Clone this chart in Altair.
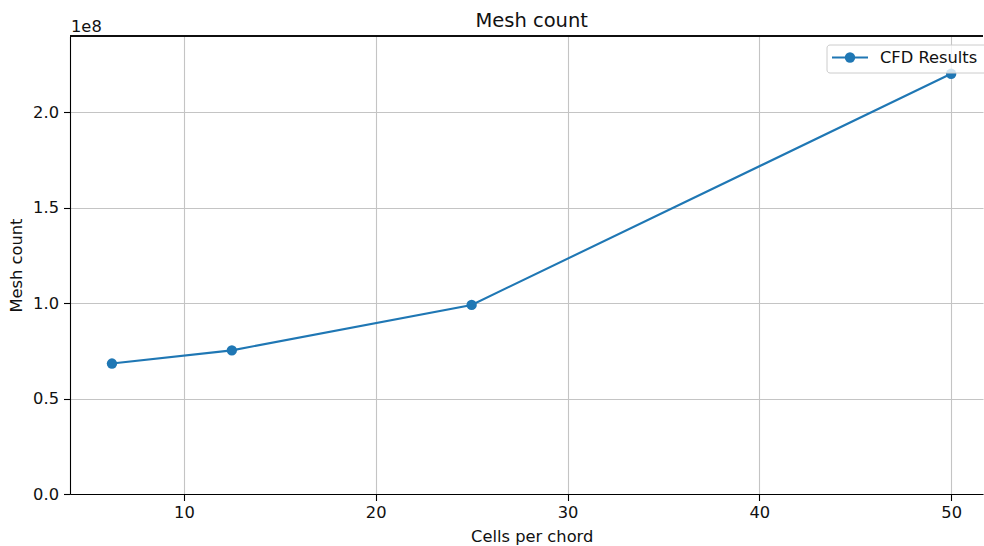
import altair as alt
import pandas as pd

# ---- data ----
cells_per_chord = [6.25, 12.5, 25, 50]
mesh_count = [0.683e8, 0.752e8, 0.99e8, 2.2e8]
x_ticks = [10, 20, 30, 40, 50]
y_ticks = [0, 0.5e8, 1.0e8, 1.5e8, 2.0e8]
series_name = "CFD Results"
chart_title = "Mesh count"
x_title = "Cells per chord"
y_title = "Mesh count"
y_multiplier = "1e8"

x_domain = [4.0625, 51.66]
y_domain = [0, 2.398e8]

W, H = 913, 458
BLUE = "#1f77b4"
FONT = "DejaVu Sans"
TXT = "#111111"

df = pd.DataFrame({"cells": cells_per_chord, "mesh": mesh_count, "series": series_name})

x_enc = alt.X("cells:Q", scale=alt.Scale(domain=x_domain, nice=False, zero=False),
              axis=alt.Axis(values=x_ticks, title=x_title, format="d", labelPadding=4,
                            titlePadding=8, titleX=461.7))
y_enc = alt.Y("mesh:Q", scale=alt.Scale(domain=y_domain, nice=False),
              axis=alt.Axis(values=y_ticks, title=y_title, labelPadding=5, titlePadding=8,
                            labelExpr="format(datum.value / 1e8, '.1f')"))

base = alt.Chart(df)
line = base.mark_line(color=BLUE, strokeWidth=2.1).encode(x=x_enc, y=y_enc)
pts = base.mark_circle(color=BLUE, size=108, opacity=1).encode(x=x_enc, y=y_enc)

# top frame edge
top_rule = base.mark_rule(color="black", strokeWidth=1.1).encode(
    x=alt.value(0), x2=alt.value(W), y=alt.value(0))

# chart title (centered over the full, uncropped axes)
title_txt = alt.Chart(pd.DataFrame({"t": [chart_title]})).mark_text(
    align="center", baseline="alphabetic", font=FONT, fontSize=19.5, color=TXT
).encode(x=alt.value(461.7), y=alt.value(-9.5), text="t:N")

# multiplier text above y axis
mult = alt.Chart(pd.DataFrame({"t": [y_multiplier]})).mark_text(
    align="left", baseline="alphabetic", font=FONT, fontSize=16.3, color=TXT
).encode(x=alt.value(1), y=alt.value(-4), text="t:N")

# legend drawn manually
leg_df = pd.DataFrame({"t": [series_name]})
leg_box = alt.Chart(leg_df).mark_rect(
    fill="white", fillOpacity=0.8, stroke="#cccccc", strokeWidth=1, cornerRadius=3
).encode(x=alt.value(757), x2=alt.value(925), y=alt.value(9), y2=alt.value(37))
leg_line = alt.Chart(leg_df).mark_rule(color=BLUE, strokeWidth=2.1).encode(
    x=alt.value(762), x2=alt.value(798), y=alt.value(21.5))
leg_pt = alt.Chart(leg_df).mark_circle(color=BLUE, size=108, opacity=1).encode(
    x=alt.value(780), y=alt.value(21.5))
leg_text = alt.Chart(leg_df).mark_text(
    align="left", baseline="middle", font=FONT, fontSize=16.3, color=TXT
).encode(x=alt.value(810), y=alt.value(22), text="t:N")

chart = alt.layer(line, pts, top_rule, title_txt, mult, leg_box, leg_line, leg_pt, leg_text).properties(
    width=W, height=H,
    padding={"left": 70, "top": 36, "right": 1, "bottom": 52},
    autosize=alt.AutoSizeParams(type="none"),
).configure_view(stroke=None).configure_axis(
    labelFont=FONT, titleFont=FONT, labelFontSize=16.3, titleFontSize=16.3,
    labelColor=TXT, titleColor=TXT, titleFontWeight="normal",
    domainColor="black", domainWidth=1.1, tickColor="black", tickSize=6.5, tickWidth=1.1,
    grid=True, gridColor="#c4c4c4", gridWidth=1.1,
)

chart.save("out.html", embed_options={"renderer": "svg", "actions": False})
